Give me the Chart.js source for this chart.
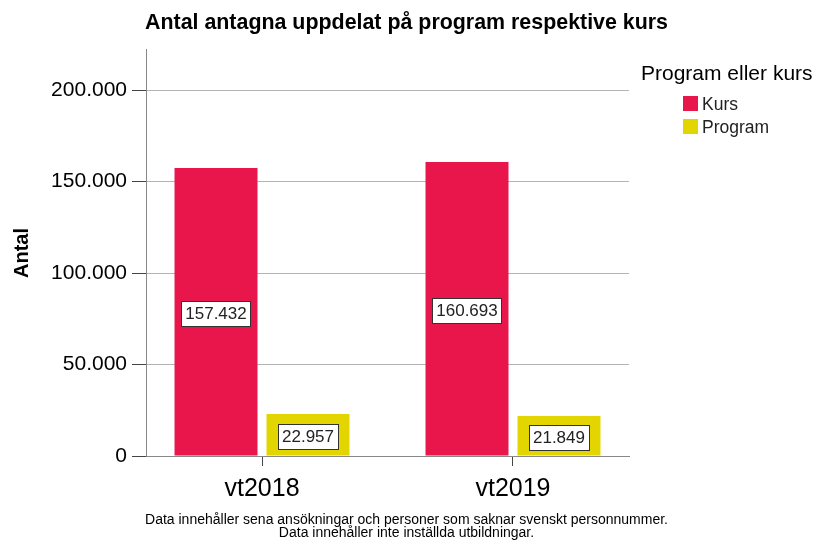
<!DOCTYPE html>
<html><head><meta charset="utf-8">
<script src="https://cdn.jsdelivr.net/npm/chart.js@4/dist/chart.umd.min.js"></script>
<style>html,body{margin:0;padding:0;background:#fff}</style>
</head><body>
<canvas id="c" width="813" height="540" style="width:813px;height:540px;display:block"></canvas>
<script>
const categories = ['vt2018', 'vt2019'];
const seriesNames = ['Kurs', 'Program'];
const kursValues = [157432, 160693];
const programValues = [22957, 21849];
const yTickValues = [0, 50000, 100000, 150000, 200000];
const titleText = 'Antal antagna uppdelat på program respektive kurs';
const legendTitle = 'Program eller kurs';
const yAxisTitle = 'Antal';
const footnotes = ['Data innehåller sena ansökningar och personer som saknar svenskt personnummer.', 'Data innehåller inte inställda utbildningar.'];
const seriesColors = ['#e8164b', '#e3d600'];

const FONT = "'Liberation Sans', Arial, sans-serif";
const fmt = v => String(v).replace(/\B(?=(\d{3})+(?!\d))/g, '.');

const seriesValues = [kursValues, programValues];

const legendBoxPlugin = {
  id: 'legendBox',
  beforeInit(chart) {
    const box = {
      position: 'right', weight: 0, fullSize: false, options: {},
      left: 0, top: 0, right: 0, bottom: 0, width: 0, height: 0,
      isHorizontal() { return false; },
      update(maxWidth, maxHeight) { this.width = 184; this.height = maxHeight; },
      draw() {
        const ctx = chart.ctx;
        ctx.save();
        ctx.fillStyle = '#000';
        ctx.textBaseline = 'middle';
        ctx.textAlign = 'left';
        ctx.font = '21px ' + FONT;
        ctx.fillText(legendTitle, this.left + 12, 74);
        ctx.font = '17.5px ' + FONT;
        chart.data.datasets.forEach((ds, i) => {
          const yc = 104 + i * 23;
          ctx.fillStyle = ds.backgroundColor;
          ctx.fillRect(this.left + 54, yc - 8, 15, 15);
          ctx.fillStyle = '#222';
          ctx.fillText(ds.label, this.left + 73, yc + 1);
        });
        ctx.restore();
      }
    };
    Chart.layouts.addBox(chart, box);
  }
};

const valueLabelPlugin = {
  id: 'valueLabels',
  afterDatasetsDraw(chart) {
    const ctx = chart.ctx;
    ctx.save();
    ctx.font = '17px ' + FONT;
    ctx.textAlign = 'center';
    ctx.textBaseline = 'middle';
    chart.data.datasets.forEach((ds, di) => {
      const meta = chart.getDatasetMeta(di);
      meta.data.forEach((el, i) => {
        const txt = fmt(ds.data[i].y);
        const cx = el.x;
        const cy = (el.y + el.base) / 2 + 2;
        const w = ctx.measureText(txt).width + 8;
        const h = 25;
        ctx.fillStyle = '#fff';
        ctx.fillRect(Math.round(cx - w / 2) + 0.5, Math.round(cy - h / 2) + 0.5, Math.round(w), h);
        ctx.strokeStyle = '#333';
        ctx.lineWidth = 1;
        ctx.strokeRect(Math.round(cx - w / 2) + 0.5, Math.round(cy - h / 2) + 0.5, Math.round(w), h);
        ctx.fillStyle = '#222';
        ctx.fillText(txt, cx, cy + 1);
      });
    });
    ctx.restore();
  }
};

new Chart(document.getElementById('c'), {
  type: 'bar',
  data: {
    datasets: seriesNames.map((name, s) => ({
      label: name,
      data: categories.map((c, i) => ({ x: i, y: seriesValues[s][i] })),
      backgroundColor: seriesColors[s],
      borderWidth: 0,
      categoryPercentage: 0.733,
      barPercentage: 0.902
    }))
  },
  options: {
    responsive: false,
    devicePixelRatio: 1,
    animation: false,
    layout: { padding: 0 },
    plugins: {
      legend: { display: false },
      tooltip: { enabled: false },
      title: {
        display: true, text: titleText, color: '#000',
        font: { family: FONT, size: 21.4, weight: 'bold' },
        padding: { top: 10, bottom: 14.3 }
      },
      subtitle: {
        display: true, text: footnotes, position: 'bottom', color: '#000',
        font: { family: FONT, size: 14, lineHeight: '13.5px' },
        padding: { top: 0, bottom: 0 }
      }
    },
    scales: {
      x: {
        type: 'linear', min: -0.4622, max: 1.4622, bounds: 'data', offset: false,
        afterBuildTicks: s => { s.ticks = categories.map((c, i) => ({ value: i })); },
        afterFit: s => { s.height = 57; },
        ticks: {
          callback: v => categories[v],
          color: '#000', font: { family: FONT, size: 25 }, padding: 8, maxRotation: 0
        },
        grid: { offset: false, drawOnChartArea: false, drawTicks: true, tickLength: 10, color: '#444' },
        border: { color: '#888', width: 1 }
      },
      y: {
        min: 0, max: 221900,
        afterBuildTicks: s => { s.ticks = yTickValues.map(v => ({ value: v })); },
        afterFit: s => { s.width = 146; },
        ticks: {
          callback: v => fmt(v),
          color: '#000', font: { family: FONT, size: 21 }, padding: 5
        },
        grid: { color: '#b4b4b4', tickColor: '#444', tickLength: 14 },
        border: { color: '#888', width: 1 },
        title: {
          display: true, text: yAxisTitle, color: '#000',
          font: { family: FONT, size: 20, weight: 'bold' },
          padding: { top: 10, bottom: 0 }
        }
      }
    }
  },
  plugins: [legendBoxPlugin, valueLabelPlugin]
});
</script>
</body></html>
